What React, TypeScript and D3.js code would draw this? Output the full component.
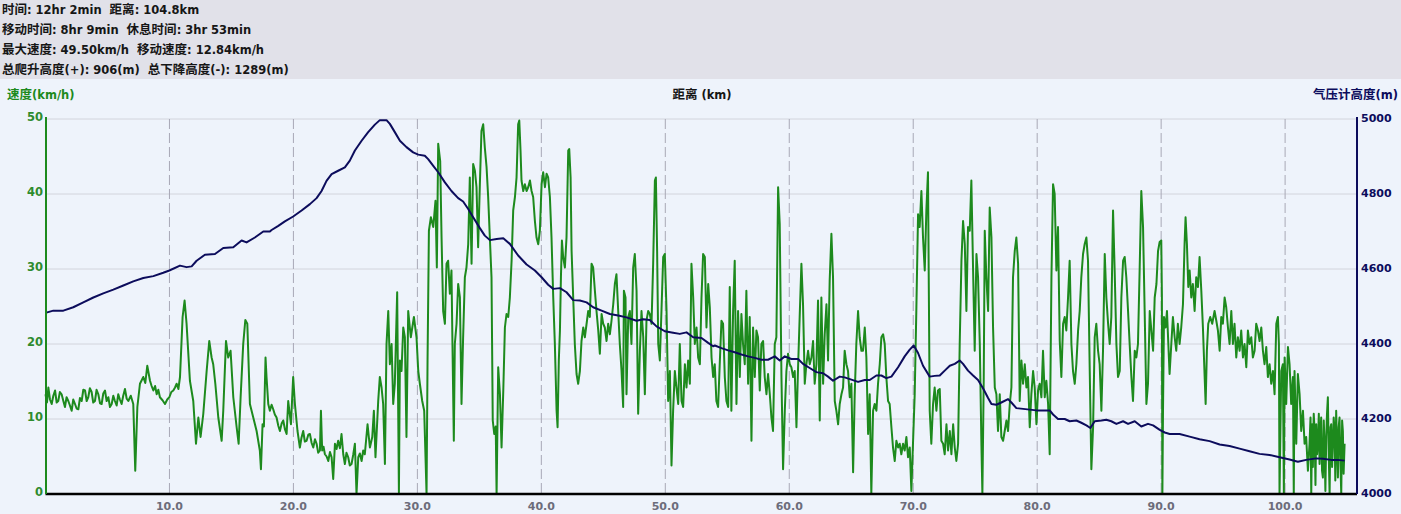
import React, { useEffect } from 'react';
import * as d3 from 'd3';

const summaryLines: string[] = [
  '时间: 12hr 2min  距离: 104.8km',
  '移动时间: 8hr 9min  休息时间: 3hr 53min',
  '最大速度: 49.50km/h  移动速度: 12.84km/h',
  '总爬升高度(+): 906(m)  总下降高度(-): 1289(m)',
];

const speedTitle = '速度(km/h)';
const distanceTitle = '距离 (km)';
const altitudeTitle = '气压计高度(m)';

const speedTicks: number[] = [0, 10, 20, 30, 40, 50];
const altitudeTicks: number[] = [4000, 4200, 4400, 4600, 4800, 5000];
const distanceTicks: number[] = [10, 20, 30, 40, 50, 60, 70, 80, 90, 100];

// [distance km, speed km/h]
const speedSeries: [number, number][] = [
  [0, 13.3], [0.12, 12.2], [0.23, 14.2], [0.36, 12.6], [0.5, 12.0], [0.63, 13.1], [0.77, 13.8], [0.9, 12.2], [1.03, 12.4], [1.16, 13.6], [1.3, 13.3], [1.44, 12.4], [1.57, 11.6], [1.7, 12.9], [1.84, 12.4], [1.97, 11.8], [2.11, 11.1], [2.24, 12.6], [2.38, 12.0], [2.51, 11.4], [2.65, 11.3], [2.78, 12.8], [2.92, 12.4], [3.05, 13.9], [3.19, 13.8], [3.32, 12.4], [3.45, 12.9], [3.58, 14.1], [3.72, 13.6], [3.85, 12.2], [3.99, 12.4], [4.12, 13.9], [4.26, 13.3], [4.4, 12.1], [4.53, 12.0], [4.66, 13.4], [4.8, 13.8], [4.93, 12.4], [5.07, 12.9], [5.2, 11.6], [5.34, 12.0], [5.47, 13.1], [5.6, 12.4], [5.74, 11.8], [5.87, 13.3], [6.0, 12.6], [6.14, 12.0], [6.27, 13.1], [6.41, 14.0], [6.55, 12.7], [6.68, 12.4], [6.88, 13.1], [7.08, 12.0], [7.24, 3.1], [7.41, 11.6], [7.62, 14.7], [7.89, 15.6], [8.05, 14.8], [8.21, 17.1], [8.43, 15.1], [8.56, 14.4], [8.7, 13.8], [8.84, 14.4], [8.97, 13.3], [9.1, 13.9], [9.23, 12.9], [9.44, 12.5], [9.64, 12.0], [9.82, 12.6], [9.99, 12.9], [10.15, 13.6], [10.31, 13.8], [10.45, 14.2], [10.58, 14.7], [10.72, 14.0], [10.85, 15.6], [11.06, 23.6], [11.22, 25.8], [11.38, 22.7], [11.65, 15.1], [11.92, 12.4], [12.14, 6.7], [12.33, 10.2], [12.51, 7.6], [12.73, 10.7], [13.0, 16.4], [13.21, 20.4], [13.4, 18.2], [13.53, 17.3], [13.7, 14.7], [13.94, 10.2], [14.21, 7.1], [14.34, 11.1], [14.56, 20.4], [14.74, 18.2], [14.93, 19.1], [15.15, 12.9], [15.42, 8.9], [15.58, 6.7], [15.74, 12.9], [15.95, 20.0], [16.12, 23.2], [16.28, 22.7], [16.49, 12.0], [16.76, 10.2], [17.03, 8.4], [17.29, 5.8], [17.38, 3.3], [17.51, 9.3], [17.62, 9.0], [17.75, 18.2],
  [17.83, 15.6], [17.97, 12.0], [18.1, 11.1], [18.24, 11.9], [18.37, 11.3], [18.5, 10.6], [18.64, 10.2], [18.78, 9.1], [18.91, 8.4], [19.05, 9.4], [19.18, 9.8], [19.32, 8.6], [19.45, 8.0], [19.58, 12.4], [19.8, 9.3], [19.98, 15.6], [20.12, 12.0], [20.33, 8.4], [20.52, 6.2], [20.65, 7.5], [20.79, 8.4], [20.92, 7.0], [21.06, 7.1], [21.2, 7.9], [21.33, 8.0], [21.47, 6.8], [21.6, 6.2], [21.74, 7.3], [21.87, 6.7], [22.0, 5.5], [22.14, 5.8], [22.22, 11.1], [22.32, 5.8], [22.43, 6.3], [22.54, 5.3], [22.68, 5.0], [22.81, 4.4], [22.95, 5.6], [23.08, 4.9], [23.21, 2.0], [23.35, 6.7], [23.48, 6.0], [23.61, 7.1], [23.75, 6.1], [23.88, 8.0], [24.02, 5.3], [24.15, 4.0], [24.28, 5.5], [24.42, 4.9], [24.55, 3.8], [24.69, 4.0], [24.82, 5.2], [24.96, 6.7], [25.09, 0], [25.23, 4.9], [25.36, 5.4], [25.5, 4.4], [25.63, 5.8], [25.76, 5.3], [25.98, 9.3], [26.17, 6.2], [26.36, 7.6], [26.49, 11.1], [26.62, 4.9], [26.84, 12.4], [26.97, 15.6], [27.11, 14.2], [27.24, 12.0], [27.38, 4.0], [27.51, 20.0], [27.65, 24.4], [27.78, 17.3], [27.92, 20.0], [28.05, 12.0], [28.18, 14.7], [28.37, 26.9], [28.51, 0.2], [28.59, 17.8], [28.72, 16.4], [28.86, 22.2], [28.99, 20.9], [29.12, 7.6], [29.26, 24.4], [29.47, 20.9], [29.72, 23.6], [29.93, 20.9], [30.07, 16.4], [30.2, 14.7], [30.39, 12.4], [30.55, 11.1], [30.74, 0], [30.82, 17.8], [30.93, 35.1], [31.09, 36.9], [31.28, 35.6], [31.46, 39.1], [31.57, 30.2], [31.68, 46.7], [31.84, 44.4], [31.95, 34.2], [32.08, 24.4], [32.22, 22.7], [32.35, 30.7], [32.48, 31.1], [32.62, 26.7], [32.75, 29.8], [32.83, 20.0], [32.94, 7.1], [33.02, 20.0], [33.16, 22.7], [33.29, 28.0], [33.43, 26.2], [33.56, 12.0], [33.69, 20.9], [33.83, 28.9], [33.96, 30.2], [34.1, 33.3], [34.23, 42.2], [34.37, 30.7], [34.5, 44.0], [34.64, 43.1], [34.77, 40.9], [34.9, 32.9], [35.04, 41.3], [35.17, 48.4], [35.31, 49.3], [35.44, 46.2], [35.58, 43.6], [35.71, 39.6], [35.85, 34.0], [35.98, 28.9], [36.08, 9.8], [36.2, 8.0], [36.32, 9.0], [36.39, 0], [36.52, 16.9], [36.66, 13.3], [36.79, 6.2], [36.93, 13.8], [37.06, 22.2], [37.19, 24.0], [37.33, 23.6], [37.46, 26.2], [37.6, 31.1], [37.73, 37.8], [37.87, 39.6], [38.0, 42.2], [38.13, 49.3], [38.22, 49.8], [38.32, 45.8], [38.4, 41.8], [38.54, 40.4], [38.67, 41.3], [38.81, 40.4], [38.94, 40.9], [39.08, 41.8], [39.21, 40.4], [39.34, 39.6], [39.48, 36.4], [39.61, 34.2], [39.75, 33.3], [39.88, 35.1], [40.02, 41.3], [40.15, 42.9], [40.29, 40.9], [40.42, 42.7], [40.55, 42.2], [40.69, 39.6], [40.82, 34.2], [40.96, 26.2], [41.09, 20.0], [41.23, 11.1], [41.31, 8.9], [41.41, 17.8], [41.5, 21.8], [41.58, 28.9], [41.66, 33.8], [41.76, 31.6], [41.9, 30.2], [42.03, 34.2], [42.17, 45.8], [42.25, 46.0], [42.36, 42.2], [42.44, 32.4], [42.57, 26.2], [42.7, 20.0], [42.84, 16.0], [42.97, 14.7], [43.11, 16.4], [43.24, 20.4], [43.38, 22.2], [43.51, 20.9], [43.65, 22.7], [43.78, 24.4], [43.91, 23.6], [44.05, 30.7], [44.18, 30.2], [44.32, 27.1], [44.45, 24.4], [44.59, 21.8], [44.72, 18.7], [44.86, 24.0], [44.99, 22.7], [45.12, 22.2], [45.26, 20.4], [45.39, 22.7], [45.53, 21.3], [45.66, 23.1], [45.8, 25.3], [45.93, 28.0], [46.06, 29.3], [46.2, 24.4], [46.33, 20.0], [46.47, 16.4], [46.6, 11.6], [46.66, 27.1], [46.79, 26.2], [46.87, 13.3], [47.01, 23.6], [47.14, 24.4], [47.27, 20.0], [47.41, 30.2], [47.54, 32.0], [47.68, 27.1], [47.81, 10.7], [47.95, 19.1], [48.08, 24.4], [48.22, 20.9], [48.35, 13.3], [48.48, 23.1], [48.62, 24.4], [48.75, 24.0], [48.89, 22.7], [49.02, 30.7], [49.16, 41.8], [49.24, 42.2], [49.34, 32.4], [49.43, 20.0], [49.56, 17.8], [49.69, 24.4], [49.83, 31.6], [49.96, 32.0], [50.1, 24.4], [50.23, 12.4], [50.37, 16.4], [50.5, 3.8], [50.63, 11.1], [50.77, 16.4], [50.9, 14.2], [51.04, 12.0], [51.17, 20.0], [51.31, 12.4], [51.44, 11.6], [51.58, 17.3], [51.71, 14.2], [51.84, 17.8], [51.98, 14.7], [52.11, 30.7], [52.25, 26.2], [52.38, 20.0], [52.52, 22.2], [52.65, 18.2], [52.79, 17.3], [52.92, 26.2], [53.05, 32.0], [53.19, 31.6], [53.32, 22.2], [53.46, 28.0], [53.59, 24.9], [53.73, 18.2], [53.86, 15.6], [53.99, 17.3],
  [54.12, 12.4], [54.26, 11.6], [54.39, 17.3], [54.53, 23.1], [54.66, 22.7], [54.8, 15.6], [54.93, 12.4], [55.07, 11.6], [55.2, 27.6], [55.33, 11.1], [55.47, 24.4], [55.6, 31.1], [55.74, 12.0], [55.87, 24.4], [56.01, 15.6], [56.14, 24.0], [56.27, 20.0], [56.41, 17.3], [56.54, 27.1], [56.68, 14.7], [56.81, 23.6], [56.95, 7.1], [57.08, 22.2], [57.22, 15.6], [57.35, 21.8], [57.48, 20.9], [57.62, 13.8], [57.75, 20.0], [57.89, 20.4], [58.02, 15.6], [58.16, 13.3], [58.29, 16.0], [58.43, 13.3], [58.56, 10.2], [58.69, 8.4], [58.83, 20.0], [58.96, 20.9], [59.1, 40.9], [59.23, 36.0], [59.37, 15.6], [59.5, 3.3], [59.64, 11.1], [59.77, 16.4], [59.9, 18.7], [60.04, 17.3], [60.17, 16.9], [60.31, 15.6], [60.44, 16.4], [60.58, 8.9], [60.71, 16.9], [60.84, 23.6], [60.98, 30.7], [61.11, 25.3], [61.25, 14.7], [61.38, 17.3], [61.52, 19.1], [61.65, 17.3], [61.79, 18.2], [61.92, 20.4], [62.05, 14.7], [62.19, 17.3], [62.32, 25.8], [62.46, 9.8], [62.59, 26.2], [62.73, 14.7], [62.86, 21.3], [63.0, 25.3], [63.13, 17.8], [63.26, 28.4], [63.4, 34.7], [63.53, 28.9], [63.67, 12.4], [63.8, 11.1], [63.94, 9.3], [64.07, 12.0], [64.21, 13.3], [64.34, 14.2], [64.47, 19.1], [64.61, 17.3], [64.74, 16.4], [64.88, 12.9], [65.01, 14.7], [65.15, 2.9], [65.28, 13.3], [65.41, 20.0], [65.55, 24.4], [65.68, 20.9], [65.82, 19.1], [65.95, 19.1], [66.09, 22.2], [66.22, 18.2], [66.36, 8.0], [66.49, 13.3], [66.62, 0], [66.76, 11.1], [66.89, 12.0], [67.03, 11.1], [67.16, 14.7], [67.3, 17.3], [67.43, 20.9], [67.57, 21.3], [67.7, 20.0], [67.83, 15.6], [67.97, 12.4], [68.1, 12.0], [68.24, 8.9], [68.37, 6.2], [68.51, 4.4], [68.64, 7.1], [68.78, 6.2], [68.91, 6.7], [69.04, 5.3], [69.18, 6.7], [69.31, 5.8], [69.45, 7.6], [69.58, 4.9], [69.72, 6.2], [69.85, 0.4], [69.98, 6.7], [70.12, 13.3], [70.25, 24.4], [70.39, 37.3], [70.52, 35.6], [70.66, 40.4], [70.79, 34.2], [70.93, 29.8], [71.06, 37.8], [71.19, 42.9], [71.33, 11.1], [71.46, 6.7], [71.6, 12.0], [71.73, 14.2], [71.87, 11.1], [72.0, 13.8], [72.14, 14.0],
  [72.27, 7.1], [72.41, 6.7], [72.54, 5.3], [72.68, 9.3], [72.81, 5.8], [72.95, 8.4], [73.08, 5.3], [73.22, 9.3], [73.35, 6.2], [73.48, 4.4], [73.62, 6.7], [73.75, 20.0], [73.89, 31.1], [74.02, 36.4], [74.16, 33.3], [74.29, 24.4], [74.42, 35.6], [74.56, 35.1], [74.69, 41.8], [74.83, 29.8], [74.96, 19.1], [75.1, 32.0], [75.23, 28.9], [75.37, 20.0], [75.5, 6.7], [75.58, 0], [75.69, 15.6], [75.77, 35.1], [75.9, 28.9], [76.04, 24.4], [76.17, 38.2], [76.31, 34.2], [76.44, 22.2], [76.58, 14.2], [76.71, 13.3], [76.84, 8.4], [76.98, 13.3], [77.11, 7.6], [77.25, 7.1], [77.38, 8.4], [77.52, 9.8], [77.65, 8.4], [77.79, 12.0], [77.92, 14.2], [78.05, 28.9], [78.19, 32.4], [78.32, 34.2], [78.46, 30.7], [78.59, 12.4], [78.73, 17.8], [78.86, 14.7], [79.0, 17.3], [79.13, 14.2], [79.26, 15.6], [79.4, 8.9], [79.53, 13.3], [79.67, 16.4], [79.8, 14.2], [79.94, 9.3], [80.07, 13.8], [80.2, 14.7], [80.34, 12.9], [80.47, 19.1], [80.61, 12.9], [80.74, 15.1], [80.88, 12.0], [81.01, 5.3], [81.15, 28.9], [81.28, 41.3], [81.41, 40.0], [81.55, 29.8], [81.68, 35.6], [81.82, 20.4], [81.95, 15.6], [82.09, 22.7], [82.22, 23.6], [82.35, 21.8], [82.49, 26.2], [82.62, 31.1], [82.76, 20.0], [82.89, 16.4], [83.03, 14.7], [83.16, 17.3], [83.3, 21.8], [83.43, 24.4], [83.56, 28.9], [83.7, 32.0], [83.83, 33.3], [83.97, 34.2], [84.1, 31.1], [84.24, 16.4], [84.37, 3.3], [84.51, 8.9], [84.64, 20.9], [84.77, 22.7], [84.91, 19.1], [85.04, 17.3], [85.18, 11.1], [85.31, 19.1], [85.45, 32.0], [85.58, 26.2], [85.72, 22.7], [85.85, 20.0], [85.98, 23.6], [86.12, 37.8], [86.25, 29.8], [86.39, 20.0], [86.52, 15.6], [86.66, 16.4], [86.79, 26.2], [86.93, 31.1], [87.06, 31.6], [87.19, 28.9], [87.33, 24.4], [87.46, 20.0], [87.6, 15.6], [87.73, 12.4], [87.87, 19.1], [88.0, 18.2], [88.13, 20.0], [88.27, 30.2], [88.4, 40.4], [88.54, 35.6], [88.67, 24.4], [88.81, 12.0], [88.94, 14.7], [89.08, 24.4], [89.21, 21.8], [89.35, 19.1], [89.48, 26.2], [89.62, 28.0], [89.75, 32.4], [89.88, 33.6], [90.01, 33.8], [90.06, 26.7], [90.1, 0], [90.15, 11.1],
  [90.23, 23.6], [90.36, 22.2], [90.47, 24.4], [90.58, 20.0], [90.68, 16.0], [90.82, 20.0], [90.95, 23.6], [91.09, 20.9], [91.22, 19.1], [91.35, 22.7], [91.49, 20.0], [91.62, 22.2], [91.76, 25.3], [91.89, 33.3], [91.97, 36.9], [92.08, 33.3], [92.19, 27.6], [92.3, 29.8], [92.43, 26.2], [92.56, 28.0], [92.7, 24.4], [92.83, 28.9], [92.97, 27.6], [93.1, 31.6], [93.24, 27.1], [93.37, 22.2], [93.51, 15.6], [93.59, 12.0], [93.69, 19.1], [93.8, 22.7], [93.96, 23.6], [94.12, 22.7], [94.31, 24.4], [94.45, 23.1], [94.58, 21.8], [94.72, 19.1], [94.85, 23.6], [94.98, 22.7], [95.12, 26.2], [95.25, 24.9], [95.39, 22.2], [95.52, 20.0], [95.66, 24.4], [95.79, 20.0], [95.92, 22.7], [96.06, 18.2], [96.19, 20.9], [96.33, 19.1], [96.46, 21.8], [96.6, 18.2], [96.73, 20.0], [96.87, 16.9], [97.0, 21.8], [97.13, 20.0], [97.27, 20.9], [97.4, 18.2], [97.54, 19.1], [97.67, 22.7], [97.81, 21.8], [97.94, 20.4], [98.08, 22.2], [98.21, 19.1], [98.34, 17.3], [98.48, 19.6], [98.61, 15.6], [98.75, 17.3], [98.88, 14.7], [99.02, 16.4], [99.15, 13.3], [99.29, 22.7], [99.42, 23.6], [99.5, 20.0], [99.55, 0], [99.69, 16.4], [99.82, 17.3], [99.9, 0], [99.96, 18.2], [100.09, 12.0], [100.23, 19.6], [100.36, 17.3], [100.49, 12.0], [100.63, 15.6], [100.7, 0], [100.76, 16.4], [100.9, 6.7], [101.03, 16.0], [101.17, 13.3], [101.3, 8.4], [101.44, 11.1], [101.57, 6.7], [101.7, 7.6], [101.84, 3.1], [101.97, 6.7], [102.05, 10.2], [102.11, 0], [102.18, 9.3], [102.24, 3.6], [102.31, 10.7], [102.38, 8.4], [102.45, 1.2], [102.51, 9.3], [102.58, 5.3], [102.65, 6.7], [102.72, 10.7], [102.78, 4.0], [102.85, 8.0], [102.91, 10.2], [102.98, 3.1], [103.05, 2.2], [103.12, 9.8], [103.18, 6.7], [103.25, 0.4], [103.32, 7.6], [103.38, 10.7], [103.45, 12.9], [103.52, 5.3], [103.59, 0], [103.66, 8.9], [103.72, 9.3], [103.79, 3.6], [103.86, 6.7], [103.92, 10.2], [103.99, 8.4], [104.05, 1.8], [104.12, 11.1], [104.19, 6.2], [104.26, 2.2], [104.32, 8.9], [104.39, 10.2], [104.46, 4.4], [104.53, 0], [104.6, 9.8], [104.66, 8.4], [104.72, 2.7], [104.8, 6.7],
];

// [distance km, barometric altitude m]
const altitudeSeries: [number, number][] = [
  [0.0, 4483], [0.63, 4489], [1.44, 4489], [2.24, 4498], [3.05, 4511], [3.86, 4524], [4.66, 4535], [5.47, 4545], [6.28, 4556], [7.08, 4567], [7.89, 4576], [8.7, 4581], [9.5, 4590], [9.99, 4596], [10.85, 4609], [11.38, 4605], [11.79, 4607], [12.19, 4622], [12.86, 4638], [13.67, 4640], [14.34, 4656], [15.15, 4658], [15.82, 4676], [16.22, 4671], [16.89, 4684], [17.57, 4700], [18.1, 4700], [18.24, 4704], [18.78, 4715], [19.31, 4727], [19.98, 4740], [20.66, 4756], [21.33, 4773], [21.87, 4789], [22.27, 4808], [22.67, 4835], [23.08, 4853], [23.61, 4862], [24.15, 4871], [24.55, 4889], [24.96, 4916], [25.5, 4942], [26.03, 4965], [26.57, 4985], [26.97, 4997], [27.51, 4997], [27.78, 4987], [28.18, 4965], [28.59, 4942], [29.12, 4925], [29.66, 4911], [30.07, 4905], [30.6, 4902], [30.87, 4893], [31.28, 4875], [31.68, 4858], [32.22, 4831], [32.75, 4808], [33.29, 4789], [33.69, 4780], [34.1, 4760], [34.5, 4738], [35.04, 4709], [35.44, 4689], [35.85, 4677], [36.39, 4680], [36.93, 4682], [37.46, 4667], [38.13, 4636], [38.81, 4612], [39.48, 4596], [40.02, 4578], [40.55, 4558], [40.96, 4547], [41.5, 4549], [42.03, 4538], [42.57, 4517], [43.11, 4516], [43.65, 4511], [44.18, 4498], [44.86, 4489], [45.53, 4480], [46.2, 4476], [46.87, 4471], [47.68, 4462], [48.22, 4466], [48.75, 4464], [49.29, 4447], [49.96, 4434], [50.63, 4430], [51.17, 4427], [51.71, 4431], [52.25, 4418], [52.92, 4416], [53.46, 4403], [53.86, 4394], [54.0, 4396], [54.53, 4389], [55.07, 4383], [55.6, 4378], [56.14, 4372], [56.68, 4367], [57.22, 4363], [57.75, 4358], [58.29, 4358], [58.83, 4367], [59.23, 4356], [59.64, 4367], [60.17, 4360], [60.71, 4360], [61.11, 4347], [61.65, 4336], [62.19, 4325], [62.73, 4322], [63.13, 4313], [63.53, 4302], [64.07, 4313], [64.47, 4311], [65.01, 4305], [65.55, 4299], [66.09, 4304], [66.49, 4304], [67.03, 4316], [67.43, 4316], [67.83, 4309], [68.24, 4313], [68.78, 4338], [69.31, 4367], [69.72, 4385], [70.04, 4396], [70.39, 4376], [70.79, 4342], [71.33, 4313], [71.73, 4315], [72.14, 4316], [72.54, 4329], [72.95, 4342], [73.35, 4347], [73.75, 4356], [74.02, 4347], [74.42, 4329], [74.83, 4316], [75.23, 4304], [75.63, 4282], [76.04, 4256], [76.31, 4240], [76.71, 4238], [77.11, 4244], [77.65, 4253], [77.92, 4244], [78.32, 4229], [78.86, 4227], [79.4, 4225], [79.94, 4223], [80.47, 4223], [81.01, 4223], [81.28, 4212], [81.68, 4200], [82.22, 4200], [82.62, 4194], [83.16, 4196], [83.56, 4190], [83.97, 4183], [84.29, 4176], [84.64, 4194], [85.18, 4196], [85.58, 4198], [85.98, 4194], [86.39, 4187], [86.93, 4194], [87.33, 4187], [87.87, 4194], [88.4, 4180], [88.94, 4187], [89.35, 4183], [89.89, 4171], [90.29, 4164], [90.69, 4160], [91.49, 4160], [92.3, 4153], [93.1, 4146], [93.91, 4141], [94.72, 4132], [95.52, 4128], [96.33, 4121], [97.13, 4114], [97.94, 4107], [98.75, 4104], [99.55, 4098], [100.36, 4092], [101.03, 4086], [101.7, 4091], [102.51, 4095], [103.05, 4094], [103.72, 4091], [104.26, 4091], [104.8, 4089],
];

const W = 1401;
const H = 514;
const LATIN_FONT = "'DejaVu Sans', 'Noto Sans CJK SC', sans-serif";
const CJK_FONT = "'Noto Sans CJK SC', sans-serif";
const GREEN = '#1d8a1d';
const NAVY = '#0c0c5c';

// split text into CJK / non-CJK runs so each gets its own font
function runs(text: string): { cjk: boolean; s: string }[] {
  const out: { cjk: boolean; s: string }[] = [];
  const re = /[\u3400-\u9fff]+/g;
  let last = 0;
  let m: RegExpExecArray | null;
  while ((m = re.exec(text))) {
    if (m.index > last) out.push({ cjk: false, s: text.slice(last, m.index) });
    out.push({ cjk: true, s: m[0] });
    last = m.index + m[0].length;
  }
  if (last < text.length) out.push({ cjk: false, s: text.slice(last) });
  return out;
}

function MixedText(props: {
  x: number;
  y: number;
  text: string;
  fill: string;
  anchor?: 'start' | 'middle' | 'end';
}) {
  return (
    <text
      x={props.x}
      y={props.y}
      fill={props.fill}
      textAnchor={props.anchor || 'start'}
      fontWeight="bold"
      style={{ whiteSpace: 'pre' }}
    >
      {runs(props.text).map((r, i) =>
        r.cjk ? (
          <tspan key={i} fontFamily={CJK_FONT} fontSize={12.5}>
            {r.s}
          </tspan>
        ) : (
          <tspan key={i} fontFamily={LATIN_FONT} fontSize={11.5}>
            {r.s}
          </tspan>
        )
      )}
    </text>
  );
}

export default function App() {
  useEffect(() => {
    document.body.style.margin = '0';
  }, []);

  const x = d3.scaleLinear().domain([0, 105.8]).range([45.5, 1357]);
  const ySpeed = d3.scaleLinear().domain([0, 50]).range([494, 119]);
  const yAlt = d3.scaleLinear().domain([4000, 5000]).range([494, 119]);

  const speedLine = d3
    .line<[number, number]>()
    .x((d) => x(d[0]))
    .y((d) => ySpeed(d[1]));
  const altLine = d3
    .line<[number, number]>()
    .x((d) => x(d[0]))
    .y((d) => yAlt(d[1]));

  const fmt = d3.format('.1f');
  const [x0, x1] = x.range();

  return (
    <svg
      width={W}
      height={H}
      style={{ position: 'absolute', left: 0, top: 0, display: 'block' }}
      fontFamily={LATIN_FONT}
    >
      <rect x={0} y={0} width={W} height={79} fill="#e1e1e9" />
      <rect x={0} y={79} width={W} height={H - 79} fill="#eef3fb" />

      {summaryLines.map((t, i) => (
        <MixedText key={i} x={2} y={14 + i * 20} text={t} fill="#161616" />
      ))}

      <MixedText x={7} y={99} text={speedTitle} fill={GREEN} />
      <MixedText x={702} y={99} text={distanceTitle} fill="#161616" anchor="middle" />
      <MixedText x={1398} y={99} text={altitudeTitle} fill={NAVY} anchor="end" />

      {/* horizontal grid */}
      {speedTicks.slice(1).map((t) => (
        <line key={'h' + t} x1={x0} x2={x1} y1={ySpeed(t)} y2={ySpeed(t)} stroke="#d2d4dc" strokeWidth={1} />
      ))}
      {/* vertical dashed grid */}
      {distanceTicks.map((t) => (
        <line
          key={'v' + t}
          x1={x(t)}
          x2={x(t)}
          y1={ySpeed(50)}
          y2={ySpeed(0)}
          stroke="#a8a8b6"
          strokeWidth={1}
          strokeDasharray="10,4"
        />
      ))}

      {/* series */}
      <path d={speedLine(speedSeries) || ''} fill="none" stroke={GREEN} strokeWidth={2} strokeLinejoin="round" />
      <path d={altLine(altitudeSeries) || ''} fill="none" stroke={NAVY} strokeWidth={2} strokeLinejoin="round" />

      {/* axes */}
      <line x1={x0} x2={x1} y1={494} y2={494} stroke="#000" strokeWidth={2.5} />
      <line x1={46} x2={46} y1={117} y2={494} stroke={GREEN} strokeWidth={2} />
      <line x1={1357} x2={1357} y1={117} y2={494} stroke={NAVY} strokeWidth={2} />

      {speedTicks.map((t) => (
        <text key={'ls' + t} x={43} y={ySpeed(t) + 2} fontSize={11.5} fontWeight="bold" fill="#2e8b2e" textAnchor="end">
          {t}
        </text>
      ))}
      {altitudeTicks.map((t) => (
        <text key={'ra' + t} x={1361} y={yAlt(t) + 3} fontSize={11} fontWeight="bold" fill={NAVY}>
          {t}
        </text>
      ))}
      {distanceTicks.map((t) => (
        <text key={'bx' + t} x={x(t)} y={510} fontSize={11} fontWeight="bold" fill="#6c6c7a" textAnchor="middle">
          {fmt(t)}
        </text>
      ))}
    </svg>
  );
}
